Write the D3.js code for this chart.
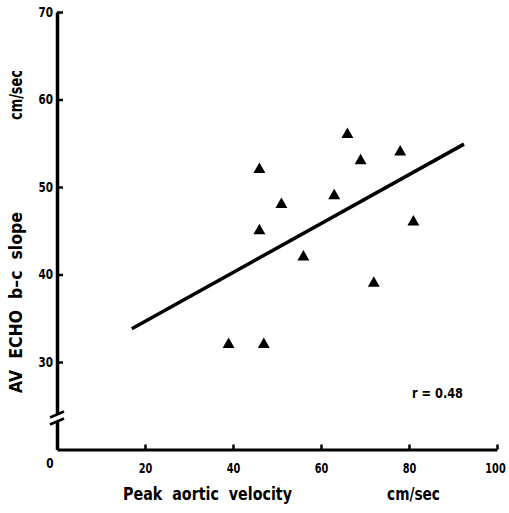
<!DOCTYPE html>
<html>
<head>
<meta charset="utf-8">
<script src="https://cdn.jsdelivr.net/npm/d3@7"></script>
<style>
  body { margin: 0; background: #fff; }
  text { font-family: "DejaVu Sans", sans-serif; font-weight: bold; fill: #000; }
</style>
</head>
<body>
<svg id="chart"></svg>
<script>
// scatter points
var velocity = [66, 78, 69, 46, 63, 51, 81, 46, 56, 72, 39, 47];
var bcSlope  = [56, 54, 53, 52, 49, 48, 46, 45, 42, 39, 32, 32];

// regression line end points
var lineX = [17, 92.5];
var lineY = [33.8, 54.9];

var xTicks = [20, 40, 60, 80, 100];
var yTicks = [30, 40, 50, 60, 70];

var width = 509, height = 513;

// axis positions
var x = d3.scaleLinear().domain([0, 100]).range([57, 497]);
var y = d3.scaleLinear().domain([20, 70]).range([449.5, 12]);

var svg = d3.select("#chart")
    .attr("width", width)
    .attr("height", height);

// squeeze text to look like the narrow typeface of the original
function narrow(sel, w) {
  sel.attr("textLength", w).attr("lengthAdjust", "spacingAndGlyphs");
}

// x axis
var xAxis = g => g
    .attr("transform", `translate(0,${y(20)})`)
    .call(d3.axisTop(x).tickValues(xTicks).tickSize(5).tickSizeOuter(0).tickFormat(d3.format("d")))
    .call(g => g.select(".domain").attr("stroke-width", 3))
    .call(g => g.selectAll(".tick line").attr("stroke-width", 2.5))
    .call(g => g.selectAll(".tick text").attr("y", 14).attr("dy", "0.71em")
        .attr("font-size", 14).attr("font-family", null)
        .call(narrow, d => String(d).length * 6.8))
    .call(g => g.selectAll(".tick:last-of-type text").attr("dx", -2));

// y axis, ticks pointing right
var yAxis = g => g
    .attr("transform", `translate(${x(0)},0)`)
    .call(d3.axisRight(y).tickValues(yTicks).tickSize(6).tickSizeOuter(0))
    .call(g => g.select(".domain").attr("stroke-width", 3.5))
    .call(g => g.selectAll(".tick line").attr("stroke-width", 2.5))
    .call(g => g.selectAll(".tick text").attr("x", -4).attr("text-anchor", "end")
        .attr("font-size", 14).attr("font-family", null)
        .call(narrow, 14.5));

svg.append("g").call(xAxis);
svg.append("g").call(yAxis);

// origin label
svg.append("text")
    .attr("x", x(0) - 7).attr("y", y(20) + 18)
    .attr("font-size", 14).attr("text-anchor", "middle")
    .call(narrow, 7.3)
    .text("0");

// axis break
var by = 418;
svg.append("rect")
    .attr("x", x(0) - 3).attr("y", by - 4)
    .attr("width", 6).attr("height", 8)
    .attr("fill", "#fff");
[-3.5, 3.5].forEach(function(o) {
  svg.append("line")
      .attr("x1", x(0) - 7).attr("y1", by + o + 3)
      .attr("x2", x(0) + 7).attr("y2", by + o - 3)
      .attr("stroke", "#000").attr("stroke-width", 2.5);
});

// regression line
svg.append("line")
    .attr("x1", x(lineX[0])).attr("y1", y(lineY[0]))
    .attr("x2", x(lineX[1])).attr("y2", y(lineY[1]))
    .attr("stroke", "#000").attr("stroke-width", 3.5);

// triangles
svg.selectAll("path.pt")
    .data(velocity)
    .enter().append("path")
    .attr("class", "pt")
    .attr("d", d3.symbol().type(d3.symbolTriangle).size(62))
    .attr("transform", (d, i) => `translate(${x(d)},${y(bcSlope[i])})`)
    .attr("fill", "#000");

// labels
svg.append("text")
    .attr("x", 123).attr("y", 500)
    .attr("font-size", 18)
    .attr("xml:space", "preserve")
    .call(narrow, 169)
    .text("Peak  aortic  velocity");

svg.append("text")
    .attr("x", 387).attr("y", 500)
    .attr("font-size", 18)
    .call(narrow, 53)
    .text("cm/sec");

svg.append("text")
    .attr("transform", "translate(22,393) rotate(-90)")
    .attr("font-size", 18)
    .attr("xml:space", "preserve")
    .call(narrow, 181)
    .text("AV  ECHO  b\u2013c  slope");

svg.append("text")
    .attr("transform", "translate(22,120) rotate(-90)")
    .attr("font-size", 18)
    .call(narrow, 50)
    .text("cm/sec");

svg.append("text")
    .attr("x", 412).attr("y", 398)
    .attr("font-size", 14)
    .call(narrow, 51)
    .text("r = 0.48");
</script>
</body>
</html>
